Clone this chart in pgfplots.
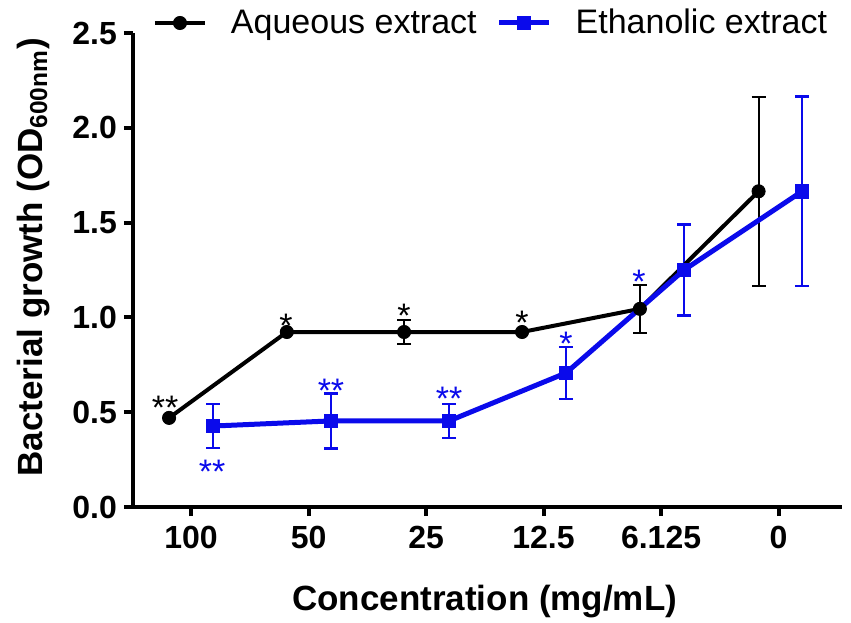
\documentclass[border=0pt]{standalone}
\usepackage{fontspec}
\setmainfont{Liberation Sans}
\usepackage{pgfplots}
\usepackage{pgfplotstable}
\pgfplotsset{compat=1.18}
\definecolor{eblue}{RGB}{10,10,235}

\pgfplotstableread{
x      y      e
-0.187 0.470  0
0.815  0.923  0
1.813  0.923  0.065
2.817  0.923  0
3.820  1.045  0.125
4.830  1.665  0.500
}\aq

\pgfplotstableread{
x      y      e
0.187  0.427  0.116
1.191  0.454  0.145
2.196  0.454  0.090
3.191  0.707  0.137
4.196  1.250  0.240
5.200  1.665  0.500
}\et

\begin{document}
\begin{tikzpicture}
\begin{axis}[
  name=ax,
  scale only axis, width=354.5pt, height=237pt,
  xmin=-0.494, xmax=5.540, ymin=0, ymax=2.5,
  axis x line*=bottom, axis y line*=left,
  axis line style={line width=2pt,-},
  xtick={0,1,2,3,4,5}, xticklabels={100,50,25,12.5,6.125,0},
  ytick={0,0.5,1,1.5,2,2.5}, yticklabels={0.0,0.5,1.0,1.5,2.0,2.5},
  tick align=outside, major tick length=4.5pt,
  tick style={line width=2pt, black},
  tick label style={font=\fontsize{16}{16}\selectfont\bfseries},
  xticklabel style={yshift=-1.5pt},
  /pgf/number format/assume math mode=true,
  clip=false,
  xlabel={Concentration (mg/mL)},
  ylabel={Bacterial growth (OD\textsubscript{600nm})},
  label style={font=\fontsize{17.5}{17.5}\selectfont\bfseries},
  xlabel style={at={(axis description cs:0.496,0)}, anchor=base, yshift=-51.5pt},
  ylabel style={at={(axis description cs:-0.1283,0.527)}, anchor=base},
  legend style={at={(0.0282,1.0211)}, anchor=west, draw=none, fill=none,
    inner sep=0pt, outer sep=0pt, font=\fontsize{17}{17}\selectfont,
    /tikz/every odd column/.append style={column sep=10pt},
    /tikz/every even column/.append style={column sep=8pt}},
  legend columns=2,
  legend cell align=left,
  legend image code/.code={\draw[mark repeat=2,mark phase=2,#1] plot coordinates {(0pt,0pt)(12.5pt,0pt)(25pt,0pt)};},
]
% error bars
\addplot[forget plot, draw=none, mark=none,
  error bars/.cd, y dir=both, y explicit,
  error bar style={line width=1pt, black},
  error mark options={rotate=90, line width=1pt, mark size=3.5pt, black}]
  table[x=x, y=y, y error=e] {\aq};
\addplot[forget plot, draw=none, mark=none,
  error bars/.cd, y dir=both, y explicit,
  error bar style={line width=1.1pt, eblue},
  error mark options={rotate=90, line width=1.1pt, mark size=3.5pt, eblue}]
  table[x=x, y=y, y error=e] {\et};
% lines
\addplot[black, line width=2pt, mark=*, mark size=3.3pt,
  mark options={solid, line width=0.4pt, fill=black}]
  table[x=x, y=y] {\aq};
\addlegendentry{Aqueous extract}
\addplot[eblue, line width=2.5pt, mark=square*, mark size=3.3pt,
  mark options={solid, line width=0.4pt, fill=eblue}]
  table[x=x, y=y] {\et};
\addlegendentry{Ethanolic extract}
% significance marks
\begin{scope}[every node/.style={anchor=base, inner sep=0pt, font=\fontsize{17}{17}\selectfont}]
\node[text=black] at (axis cs:-0.221,0.460) {**};
\node[text=black] at (axis cs:0.809,0.893) {*};
\node[text=black] at (axis cs:1.813,0.946) {*};
\node[text=black] at (axis cs:2.817,0.909) {*};
\node[text=eblue] at (axis cs:3.813,1.125) {*};
\node[text=eblue] at (axis cs:3.191,0.798) {*};
\node[text=eblue] at (axis cs:0.179,0.123) {**};
\node[text=eblue] at (axis cs:1.191,0.550) {**};
\node[text=eblue] at (axis cs:2.196,0.508) {**};
\end{scope}
\end{axis}
\pgfresetboundingbox
\path ([shift={(-66.5pt,-57.5pt)}]ax.south west) rectangle ([shift={(359pt,253.5pt)}]ax.south west);
\end{tikzpicture}
\end{document}
